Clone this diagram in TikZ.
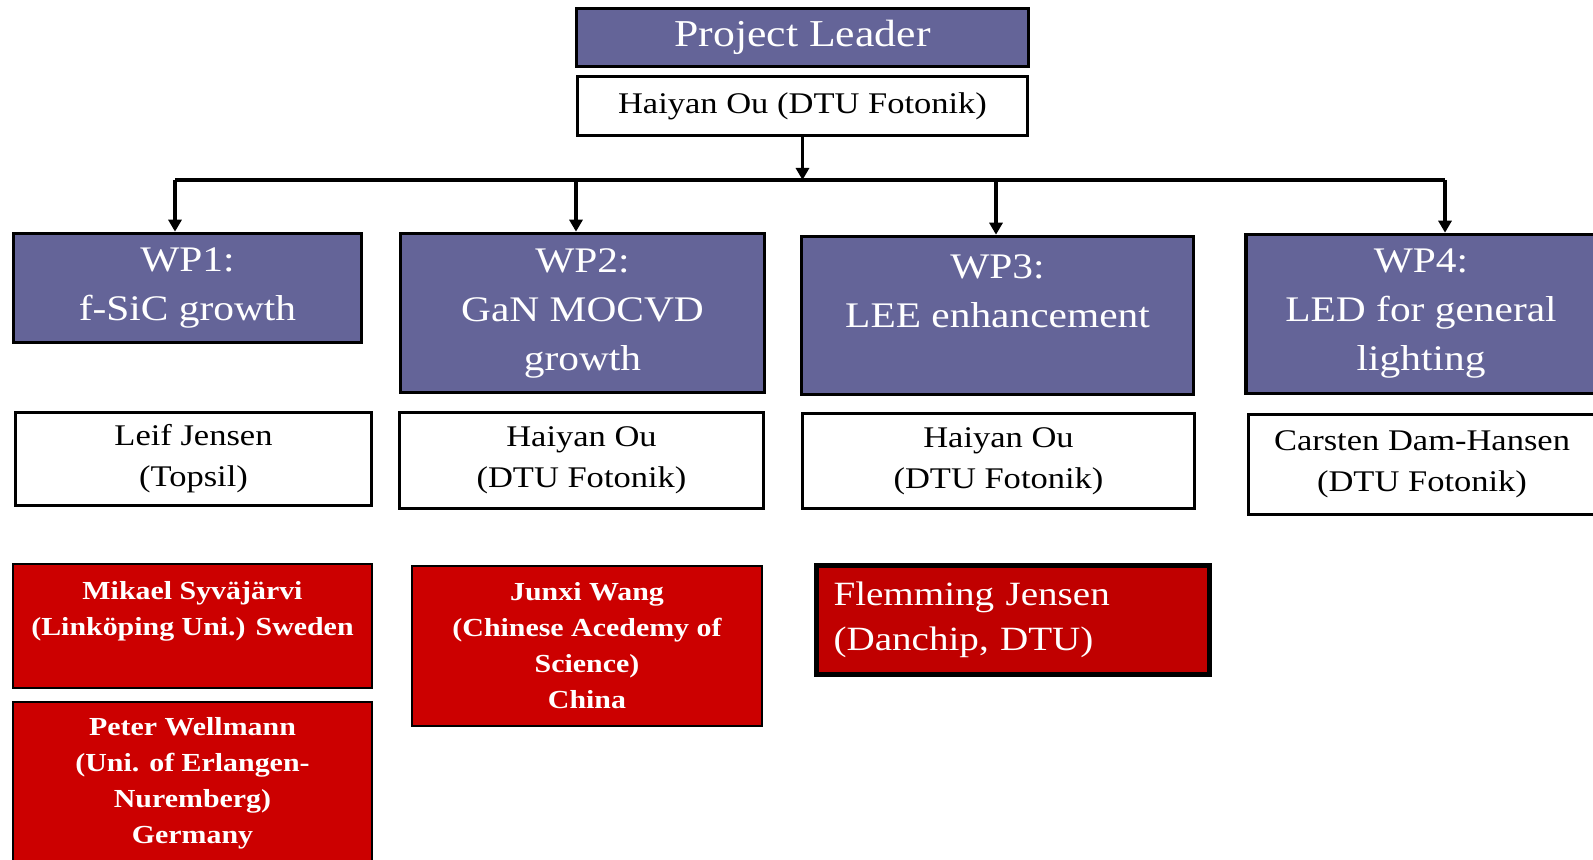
\documentclass[tikz,border=0pt]{standalone}
\usepackage{fontspec}
\setmainfont[FakeStretch=1.15]{Liberation Serif}
\usetikzlibrary{arrows.meta, positioning}
\definecolor{wpblue}{RGB}{100,100,152}
\definecolor{partnerred}{RGB}{204,0,0}
\definecolor{flemred}{RGB}{192,0,0}

\begin{document}
\begin{tikzpicture}[x=0.5pt, y=-0.5pt,
  wpbox/.style={draw, line width=1.8pt, fill=wpblue, text=white, align=center, inner sep=0pt, font=\fontsize{18}{24.5}\selectfont},
  namebox/.style={draw, line width=1.8pt, fill=white, align=center, inner sep=0pt, font=\fontsize{15}{20.5}\selectfont},
  partnerbox/.style={draw, line width=1.2pt, fill=partnerred, text=white, align=center, inner sep=0pt, font=\bfseries\fontsize{13}{18}\selectfont},
  feed/.style={line width=1.8pt, -{Triangle[width=6.5pt,length=6pt]}}]

\clip (0,0) rectangle (1593,860);

% leader
\node[wpbox, minimum width=226pt, minimum height=29pt, font=\fontsize{19}{23}\selectfont] (lead) at (802.5,37.5) {Project Leader};
\node[namebox, minimum width=225pt, minimum height=29.5pt] (leadname) at (802.5,106) {Haiyan Ou (DTU Fotonik)};

% work packages
\node[wpbox, minimum width=174pt, minimum height=54.5pt] (wp1) at (187.5,288) {WP1:\\ f-SiC growth};
\node[wpbox, minimum width=182pt, minimum height=79.5pt] (wp2) at (582.5,313) {WP2:\\ GaN MOCVD\\ growth};
\node[wpbox, minimum width=196pt, minimum height=79pt] (wp3) at (997.5,315.5) {WP3:\\ LEE enhancement\\ \mbox{}};
\node[wpbox, minimum width=175pt, minimum height=79.5pt] (wp4) at (1421,314) {WP4:\\ LED for general\\ lighting};

% WP leaders
\node[namebox, minimum width=178pt, minimum height=46.5pt] (lj) at (193.5,459) {Leif Jensen\\ (Topsil)};
\node[namebox, minimum width=182pt, minimum height=48pt] (ho2) at (581.5,460.5) {Haiyan Ou\\ (DTU Fotonik)};
\node[namebox, minimum width=196pt, minimum height=47.5pt] (ho3) at (998.5,461) {Haiyan Ou\\ (DTU Fotonik)};
\node[namebox, minimum width=173.5pt, minimum height=50pt] (cdh) at (1422,464.5) {Carsten Dam-Hansen\\ (DTU Fotonik)};

% partners
\node[partnerbox, minimum width=179.5pt, minimum height=62pt] (msy) at (192.5,626) {Mikael Syväjärvi\\ (Linköping Uni.) Sweden\\ \mbox{}};
\node[partnerbox, minimum width=179.5pt, minimum height=81.5pt] (pwe) at (192.5,783.5) {Peter Wellmann\\ (Uni. of Erlangen-\\ Nuremberg)\\ Germany};
\node[partnerbox, minimum width=175pt, minimum height=80pt] (jwa) at (587,646) {Junxi Wang\\ (Chinese Acedemy of\\ Science)\\ China};
\node[partnerbox, fill=flemred, line width=2.5pt, align=left, text width=179.5pt, inner xsep=8.5pt, minimum height=54.5pt, font=\fontsize{17}{22.5}\selectfont] (fje) at (1013,620) {Flemming Jensen\\ (Danchip, DTU)};

% connectors
\coordinate (bus) at (802.5,180);
\coordinate (b1) at (175,180);
\coordinate (b2) at (576,180);
\coordinate (b3) at (996,180);
\coordinate (b4) at (1445,180);

\draw[feed] (leadname) -- (bus);
\draw[line width=1.8pt] (b1) -- (b4);
\draw[feed] (b1) -- (b1 |- wp1.north);
\draw[feed] (b2) -- (b2 |- wp2.north);
\draw[feed] (b3) -- (b3 |- wp3.north);
\draw[feed] (b4) -- (b4 |- wp4.north);
\end{tikzpicture}
\end{document}
